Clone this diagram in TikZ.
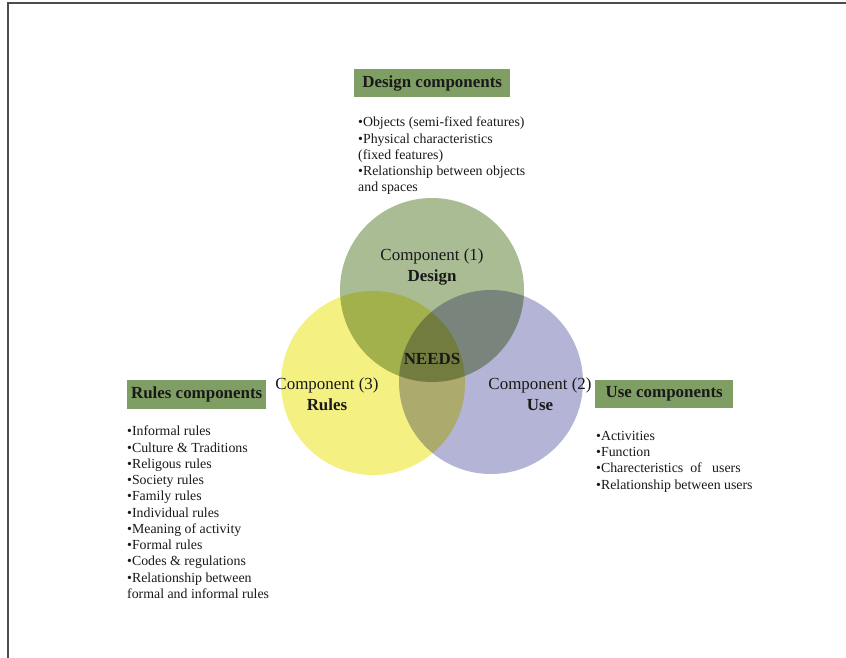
\documentclass[tikz,border=0pt]{standalone}
\usepackage{fontspec}
\setmainfont{Liberation Serif}
\definecolor{hdrgreen}{RGB}{127,158,100}
\definecolor{cdesign}{RGB}{170,188,148}
\definecolor{crules}{RGB}{244,241,130}
\definecolor{cuse}{RGB}{180,180,214}
\definecolor{txt}{RGB}{25,25,25}
\begin{document}
\begin{tikzpicture}[x=1bp,y=-1bp,
  hdr/.style={fill=hdrgreen, text=txt, font=\bfseries\fontsize{17}{19}\selectfont, inner sep=0pt, anchor=north west},
  lst/.style={align=left, anchor=north west, inner sep=0pt, text=txt, font=\fontsize{13.9}{16.3}\selectfont},
  comp/.style={align=center, inner sep=0pt, text=txt, font=\fontsize{17}{21}\selectfont},
  venn/.style={circle, minimum size=184bp, inner sep=0pt}
]
\useasboundingbox (0,0) rectangle (846,658);
\draw[line width=1.2bp, black!70] (8,658) -- (8,3) -- (846,3);
% circles
\begin{scope}[blend group=multiply]
\node[venn, fill=cdesign] (design) at (432,290) {};
\node[venn, fill=crules] (rules) at (373,383) {};
\node[venn, fill=cuse] (use) at (491,382) {};
\end{scope}
% labels
\node[comp] (l1) at (432,267) {Component (1)\\\textbf{Design}};
\node[comp] (l3) at (327,394) {Component (3)\\\textbf{Rules}};
\node[comp] (l2) at (540,394) {Component (2)\\\textbf{Use}};
\node[comp, font=\bfseries\fontsize{17}{21}\selectfont] (needs) at (432,359) {NEEDS};
% headers
\node[hdr, minimum width=156bp, minimum height=28bp] (hd) at (354,69) {Design components};
\node[hdr, minimum width=139bp, minimum height=29bp] (hr) at (127,380) {Rules components};
\node[hdr, minimum width=138bp, minimum height=28bp] (hu) at (595,380) {Use components};
% lists
\node[lst] (ld) at (358,117) {•Objects (semi-fixed features)\\•Physical characteristics\\(fixed features)\\•Relationship between objects\\and spaces};
\node[lst] (lr) at (127,426) {•Informal rules\\•Culture \& Traditions\\•Religous rules\\•Society rules\\•Family rules\\•Individual rules\\•Meaning of activity\\•Formal rules\\•Codes \& regulations\\•Relationship between\\formal and informal rules};
\node[lst] (lu) at (596,431) {•Activities\\•Function\\•Charecteristics~ of~~ users\\•Relationship between users};
\end{tikzpicture}
\end{document}
